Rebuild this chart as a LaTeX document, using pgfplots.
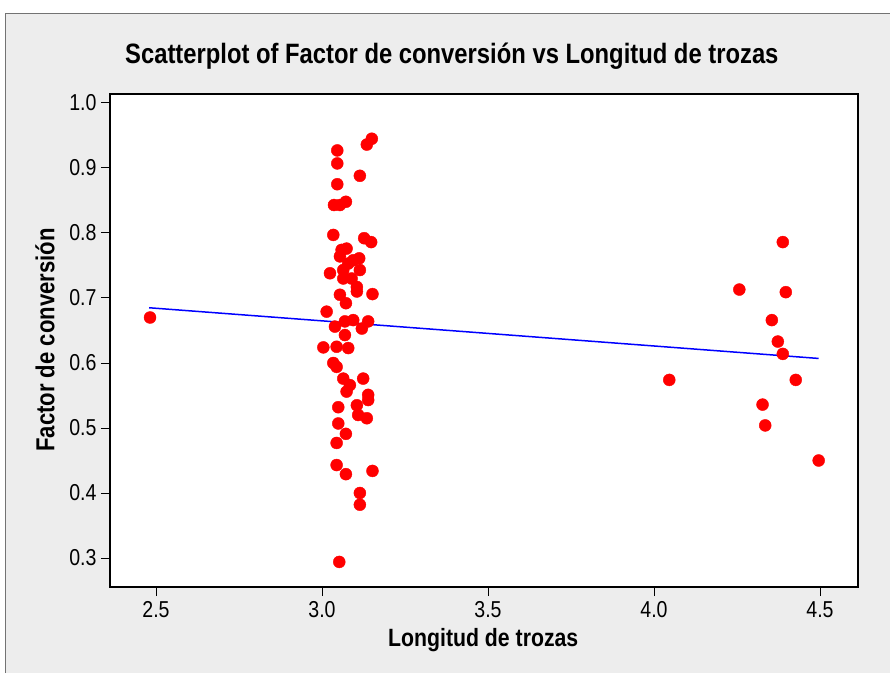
\documentclass[border=0pt]{standalone}
\usepackage{fontspec}
\setmainfont{Liberation Sans}[FakeStretch=0.85]
\usepackage{pgfplots}
\pgfplotsset{compat=1.18}
\begin{document}
\begin{tikzpicture}[x=1pt,y=1pt]
\useasboundingbox (0,0) rectangle (890,-673);
\fill[white] (0,0) rectangle (890,-673);
\fill[black!7] (5,-13) rectangle (890,-673);
\draw[black!55, line width=1pt] (5,-673) -- (5,-13) -- (890,-13);
\begin{axis}[
  at={(110pt,-587pt)}, anchor=south west,
  scale only axis, width=748pt, height=493pt,
  xmin=2.3614, xmax=4.6145, ymin=0.2554, ymax=1.0138,
  axis background/.style={fill=white},
  axis line style={line width=1.5pt, black},
  tick pos=left, tick align=outside,
  major tick length=9pt,
  tick style={line width=1pt, black},
  xtick={2.5,3.0,3.5,4.0,4.5},
  ytick={0.3,0.4,0.5,0.6,0.7,0.8,0.9,1.0},
  /pgf/number format/.cd, fixed, fixed zerofill, precision=1, assume math mode=true,
  /pgfplots/.cd,
  ticklabel style={font=\fontsize{23}{26}\selectfont},
  xticklabel style={yshift=-2pt},
  yticklabel style={xshift=-1pt},
  title={Scatterplot of Factor de conversión vs Longitud de trozas},
  title style={font=\fontsize{28}{32}\selectfont\bfseries, at={(axis description cs:0.457,1.065)}, anchor=center},
  xlabel={Longitud de trozas},
  xlabel style={font=\fontsize{25}{28}\selectfont\bfseries, at={(axis description cs:0.499,-0.1075)}, anchor=center},
  ylabel={Factor de conversión},
  ylabel style={font=\fontsize{26}{29}\selectfont\bfseries, at={(axis description cs:-0.0869,0.501)}, anchor=center, rotate=0},
  clip=false
]
\addplot[blue, line width=1.5pt] coordinates {(2.479,0.685) (4.496,0.607)};
\addplot[only marks, mark=*, mark size=6pt, mark options={fill=red, draw=red}] coordinates {
(2.482,0.670)
(3.150,0.945) (3.135,0.936) (3.046,0.927) (3.046,0.907) (3.046,0.875) (3.114,0.888)
(3.036,0.843) (3.054,0.843) (3.072,0.848) (3.034,0.797) (3.127,0.792) (3.148,0.786)
(3.059,0.774) (3.074,0.776) (3.054,0.764) (3.112,0.761) (3.079,0.753) (3.094,0.758)
(3.024,0.738) (3.064,0.743) (3.114,0.743) (3.089,0.730) (3.064,0.730) (3.105,0.717)
(3.105,0.710) (3.054,0.705) (3.072,0.692) (3.152,0.706) (3.014,0.679) (3.039,0.656)
(3.069,0.664) (3.094,0.666) (3.139,0.664) (3.120,0.653) (3.069,0.643) (3.004,0.624)
(3.044,0.625) (3.079,0.623) (3.034,0.600) (3.044,0.594) (3.064,0.576) (3.084,0.566)
(3.124,0.576) (3.074,0.556) (3.139,0.551) (3.139,0.543) (3.049,0.532) (3.105,0.535)
(3.109,0.520) (3.135,0.515) (3.049,0.507) (3.072,0.491) (3.044,0.477) (3.044,0.443)
(3.072,0.429) (3.152,0.434) (3.114,0.400) (3.114,0.382) (3.052,0.294)
(4.388,0.786) (4.257,0.713) (4.397,0.709) (4.355,0.666) (4.373,0.633) (4.388,0.614)
(4.046,0.574) (4.427,0.574) (4.327,0.536) (4.335,0.504) (4.496,0.450)
};
\end{axis}
\end{tikzpicture}
\end{document}
